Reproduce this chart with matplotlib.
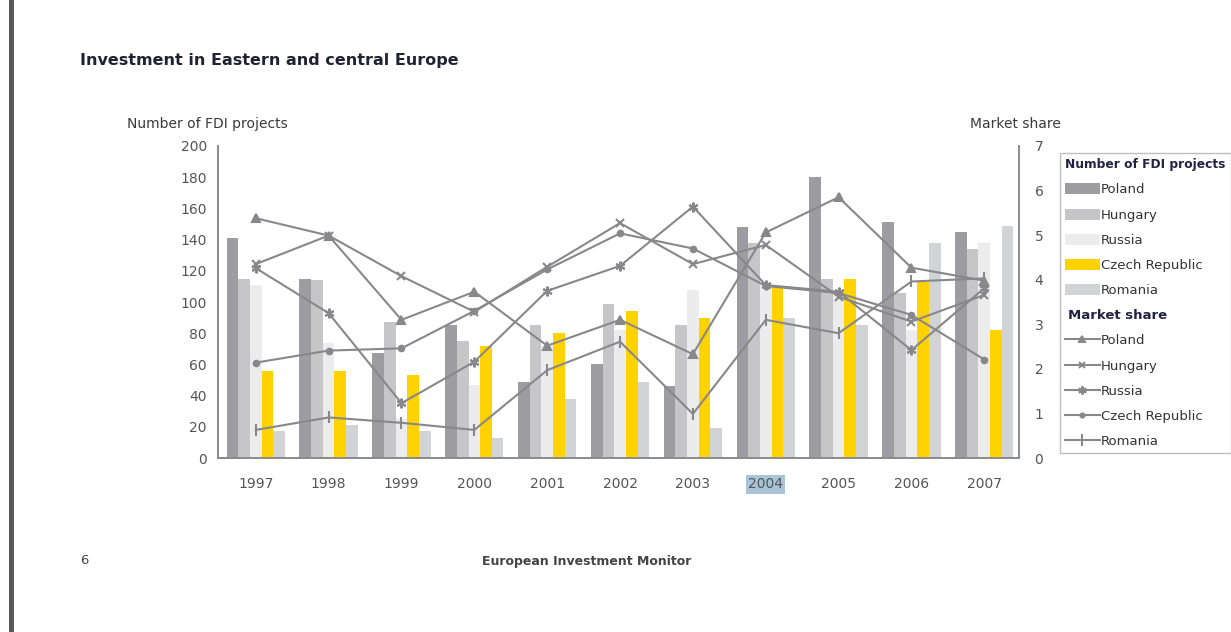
import matplotlib
matplotlib.use("Agg")
import matplotlib.pyplot as plt
from matplotlib.lines import Line2D
from matplotlib.patches import Patch, Rectangle
import numpy as np

years = ["1997", "1998", "1999", "2000", "2001", "2002", "2003", "2004", "2005", "2006", "2007"]
countries = ["Poland", "Hungary", "Russia", "Czech Republic", "Romania"]

# number of FDI projects (left axis)
proj_poland = [141, 115, 67, 85, 49, 60, 46, 148, 180, 151, 145]
proj_hungary = [115, 114, 87, 75, 85, 99, 85, 138, 115, 106, 134]
proj_russia = [111, 74, 25, 47, 72, 82, 108, 112, 107, 82, 138]
proj_czech = [56, 56, 53, 72, 80, 94, 90, 110, 115, 113, 82]
proj_romania = [17, 21, 17, 13, 38, 49, 19, 90, 85, 138, 149]

# market share (right axis)
ms_poland = [5.38, 4.99, 3.10, 3.73, 2.52, 3.10, 2.33, 5.06, 5.85, 4.27, 3.98]
ms_hungary = [4.35, 4.99, 4.08, 3.28, 4.29, 5.27, 4.35, 4.78, 3.62, 3.06, 3.66]
ms_russia = [4.26, 3.25, 1.23, 2.16, 3.75, 4.31, 5.64, 3.88, 3.73, 2.42, 3.81]
ms_czech = [2.14, 2.41, 2.46, 3.30, 4.23, 5.04, 4.70, 3.86, 3.70, 3.21, 2.21]
ms_romania = [0.63, 0.91, 0.79, 0.63, 1.97, 2.61, 0.99, 3.10, 2.80, 3.96, 4.03]

projects = [proj_poland, proj_hungary, proj_russia, proj_czech, proj_romania]
shares = [ms_poland, ms_hungary, ms_russia, ms_czech, ms_romania]

bar_colors = ["#9d9ca1", "#c6c6c8", "#ececec", "#ffd200", "#d2d3d5"]
line_color = "#88888b"
markers = ["^", "x", (6, 2, 0), "o", "|"]
marker_sizes = [6, 6, 7, 4, 9]

text_color = "#555555"

fig = plt.figure(figsize=(12.31, 6.32), dpi=100)
ax = fig.add_axes([0.177, 0.2753, 0.651, 0.4937])
ax2 = ax.twinx()
ax.set_zorder(ax2.get_zorder() - 1)
ax2.patch.set_visible(False)

x = np.arange(len(years))
w = 0.16
for i, vals in enumerate(projects):
    ax.bar(x + (i - 2) * w, vals, width=w, color=bar_colors[i], linewidth=0)

for i, vals in enumerate(shares):
    ax2.plot(x, vals, color=line_color, lw=1.5, marker=markers[i],
             markersize=marker_sizes[i], markeredgewidth=1.5,
             markerfacecolor=line_color, markeredgecolor=line_color)

ax.set_xlim(-0.52, 10.48)
ax.set_ylim(0, 200)
ax2.set_ylim(0, 7)
ax.set_yticks(range(0, 201, 20))
ax2.set_yticks(range(0, 8))
ax.set_xticks(x)
ax.set_xticklabels(years)

for a in (ax, ax2):
    a.spines["top"].set_visible(False)
    for s in ["left", "right", "bottom"]:
        a.spines[s].set_color("#8c8c8c")
        a.spines[s].set_linewidth(1.3)
ax.tick_params(axis="y", length=0, pad=8, labelsize=10, labelcolor=text_color)
ax.tick_params(axis="x", length=0, pad=14, labelsize=10, labelcolor=text_color)
ax2.tick_params(axis="y", length=0, pad=11, labelsize=10, labelcolor=text_color)

# selection highlight on 2004
lbl = ax.get_xticklabels()[7]
lbl.set_bbox(dict(facecolor="#a8c4d6", edgecolor="none", pad=1.5))

fig.text(80 / 1231, 1 - 60 / 632, "Investment in Eastern and central Europe",
         fontsize=11.5, color="#1f2233", fontweight="semibold", va="center", ha="left")
fig.text(127 / 1231, 1 - 124 / 632, "Number of FDI projects",
         fontsize=10, color="#3a3a3a", va="center", ha="left")
fig.text(970 / 1231, 1 - 124 / 632, "Market share",
         fontsize=10, color="#3a3a3a", va="center", ha="left")
fig.text(80 / 1231, 1 - 561 / 632, "6", fontsize=9.5, color="#444444",
         va="center", ha="left")
fig.text(587 / 1231, 1 - 561 / 632, "European Investment Monitor", fontsize=9,
         color="#444444", fontweight="bold", va="center", ha="center")

# page edge bar
fig.add_artist(Rectangle((9 / 1231, 0), 5 / 1231, 1, transform=fig.transFigure,
                         facecolor="#5a5a5a", edgecolor="none"))

handles = [Patch(facecolor=c, edgecolor="none") for c in bar_colors]
labels = list(countries)
handles.append(Line2D([], [], color="none"))
labels.append(" ")
for i in range(len(countries)):
    handles.append(Line2D([], [], color=line_color, lw=1.5, marker=markers[i],
                          markersize=marker_sizes[i] - 1, markeredgewidth=1.4,
                          markerfacecolor=line_color, markeredgecolor=line_color))
    labels.append(countries[i])

leg = fig.legend(handles, labels, loc="upper left",
                 bbox_to_anchor=(1060 / 1231, 1 - 153 / 632),
                 title="Number of FDI projects", title_fontsize=8.8,
                 fontsize=9.5, frameon=True, fancybox=False,
                 edgecolor="#b0b0b0", handlelength=2.6, handleheight=0.9,
                 handletextpad=0.1, labelspacing=0.92, borderpad=0.4,
                 alignment="left", borderaxespad=0)
leg.get_frame().set_linewidth(1.0)
leg.get_title().set_fontweight("bold")
leg.get_title().set_color("#222244")
for t in leg.get_texts():
    t.set_color("#333333")

# "Market share" sub-heading inside the legend, left aligned
fig.canvas.draw()
ext = leg.get_texts()[5].get_window_extent()
yc = (ext.y0 + ext.y1) / 2 / fig.bbox.height
fig.text(1068 / 1231, yc, "Market share", fontsize=9.5, fontweight="bold",
         color="#222244", va="center", ha="left", zorder=20)

fig.savefig("out.png", dpi=100)
